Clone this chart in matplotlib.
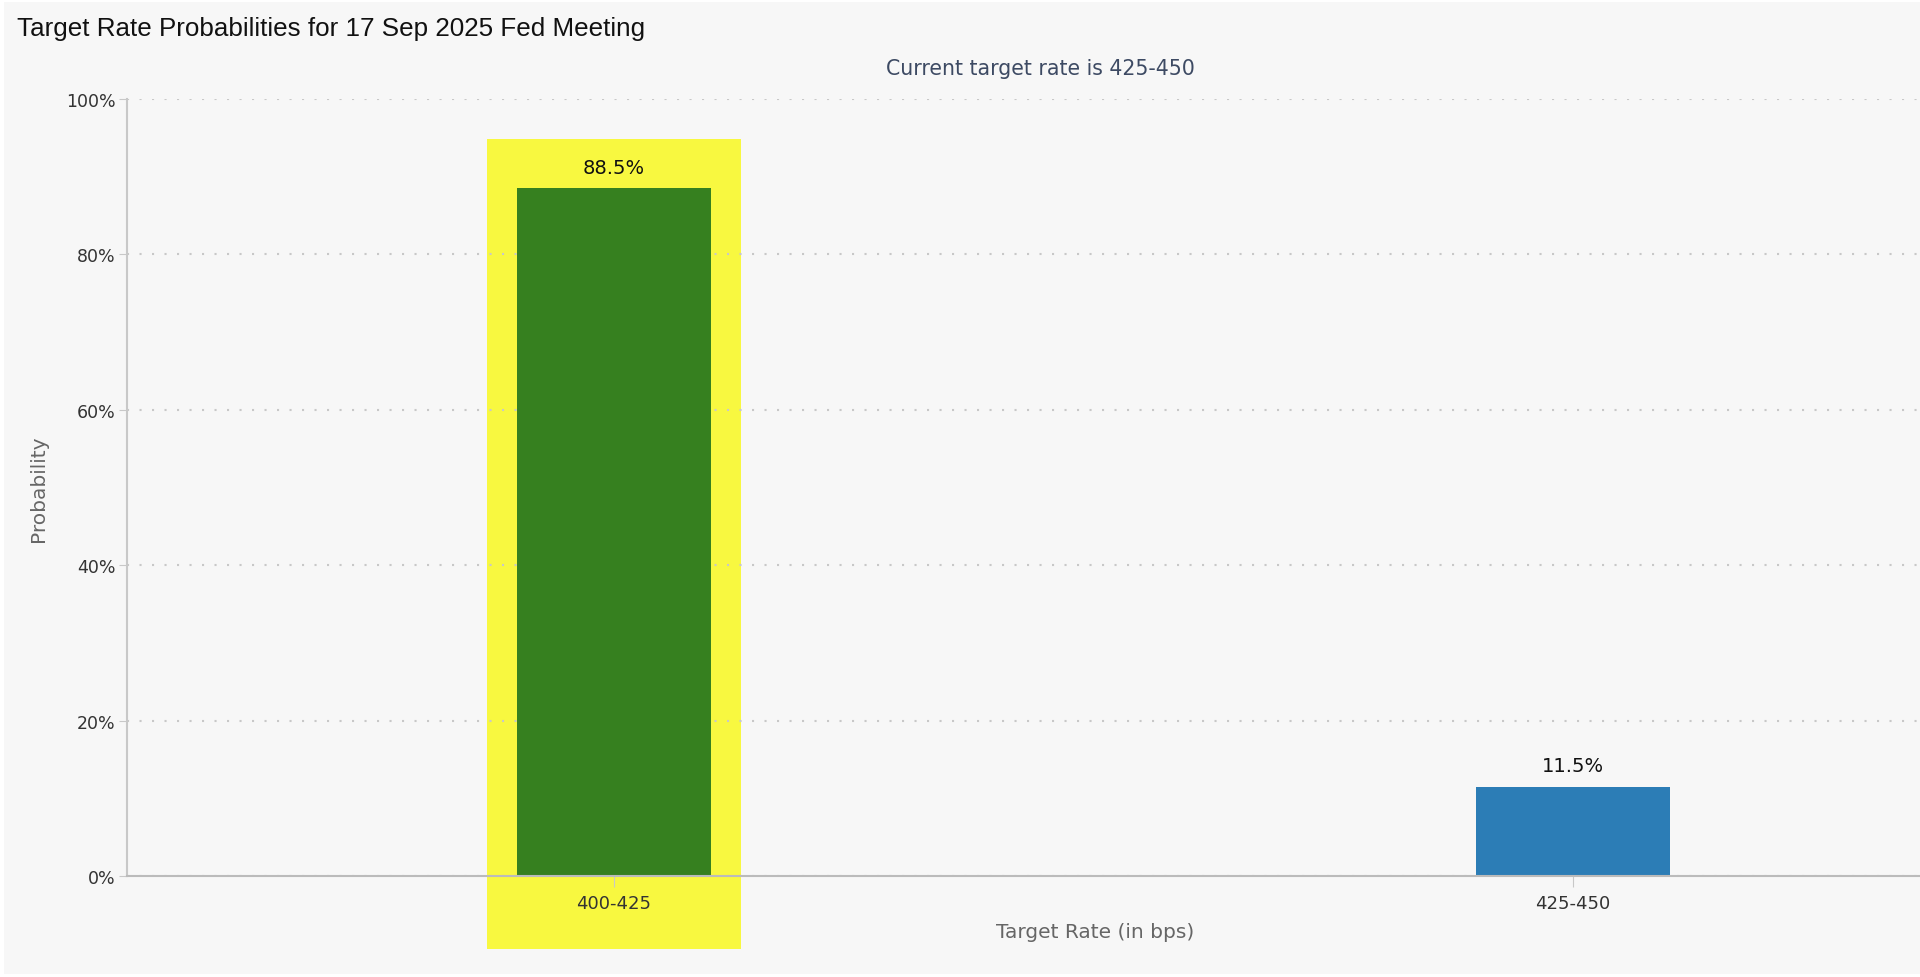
import matplotlib
matplotlib.use("Agg")
import matplotlib.pyplot as plt
from matplotlib.patches import Rectangle
from matplotlib.ticker import FuncFormatter

# chart data
rates = ["400-425", "425-450"]
probabilities = [88.5, 11.5]
bar_colors = ["#36801f", "#2c7db6"]
highlight_index = 0
current_rate = "425-450"
meeting_date = "17 Sep 2025"

BG = "#f7f7f7"

fig = plt.figure(figsize=(19.2, 9.78), dpi=100, facecolor="white")
fig.patches.append(Rectangle((0.002, 0.003), 0.998, 0.994, transform=fig.transFigure,
                             facecolor=BG, edgecolor="none", zorder=-10))

ax = fig.add_axes([0.0661, 0.1033, 0.9339, 0.7945])
ax.set_facecolor(BG)

x = list(range(len(rates)))
bar_width = 0.202

# yellow highlight behind the most likely outcome
hl_w = 0.264
ax.add_patch(Rectangle((x[highlight_index] - hl_w / 2, -9.4), hl_w, 104.3,
                       facecolor="#f8f840", edgecolor="none", clip_on=False, zorder=0.5))

bars = ax.bar(x, probabilities, width=bar_width, color=bar_colors, zorder=3)

for xi, p in zip(x, probabilities):
    ax.text(xi, p + 1.5, f"{p}%", ha="center", va="bottom", fontsize=14,
            color="#111111", family="DejaVu Sans", zorder=4)

ax.set_xlim(-0.508, 1.362)
ax.set_ylim(0, 100)
ax.set_yticks([0, 20, 40, 60, 80, 100])
ax.yaxis.set_major_formatter(FuncFormatter(lambda v, _: f"{v:.0f}%"))
ax.set_xticks(x)
ax.set_xticklabels(rates)

ax.grid(axis="y", linestyle=(0, (1, 5)), color="#c8c8c8", linewidth=1.5, zorder=1)
ax.set_axisbelow(True)

for side in ["top", "right"]:
    ax.spines[side].set_visible(False)
ax.spines["left"].set_color("#c8c8c8")
ax.spines["left"].set_linewidth(1.5)
ax.spines["bottom"].set_color("#bbbbbb")
ax.spines["bottom"].set_linewidth(1.5)
ax.spines["bottom"].set_zorder(4)

ax.tick_params(axis="y", length=6, color="#c8c8c8", labelsize=12.5, labelcolor="#333333", pad=2)
ax.tick_params(axis="x", length=8, color="#c8c8c8", labelsize=13, labelcolor="#333333", pad=5)
for lbl in ax.get_xticklabels() + ax.get_yticklabels():
    lbl.set_family("DejaVu Sans")

ax.set_xlabel("Target Rate (in bps)", fontsize=14.5, color="#666666", family="DejaVu Sans")
ax.xaxis.set_label_coords(0.54, -0.059)
ax.set_ylabel("Probability", fontsize=14.5, color="#666666", family="DejaVu Sans")
ax.yaxis.set_label_coords(-0.044, 0.5)

fig.text(0.0089, 0.970, f"Target Rate Probabilities for {meeting_date} Fed Meeting",
         fontsize=18.7, family="Liberation Sans", color="#111111", va="center", ha="left")
fig.text(0.542, 0.929, f"Current target rate is {current_rate}", fontsize=14.8,
         family="DejaVu Sans", color="#3d4a63", va="center", ha="center")

fig.savefig("out.png", dpi=100, facecolor="white")
